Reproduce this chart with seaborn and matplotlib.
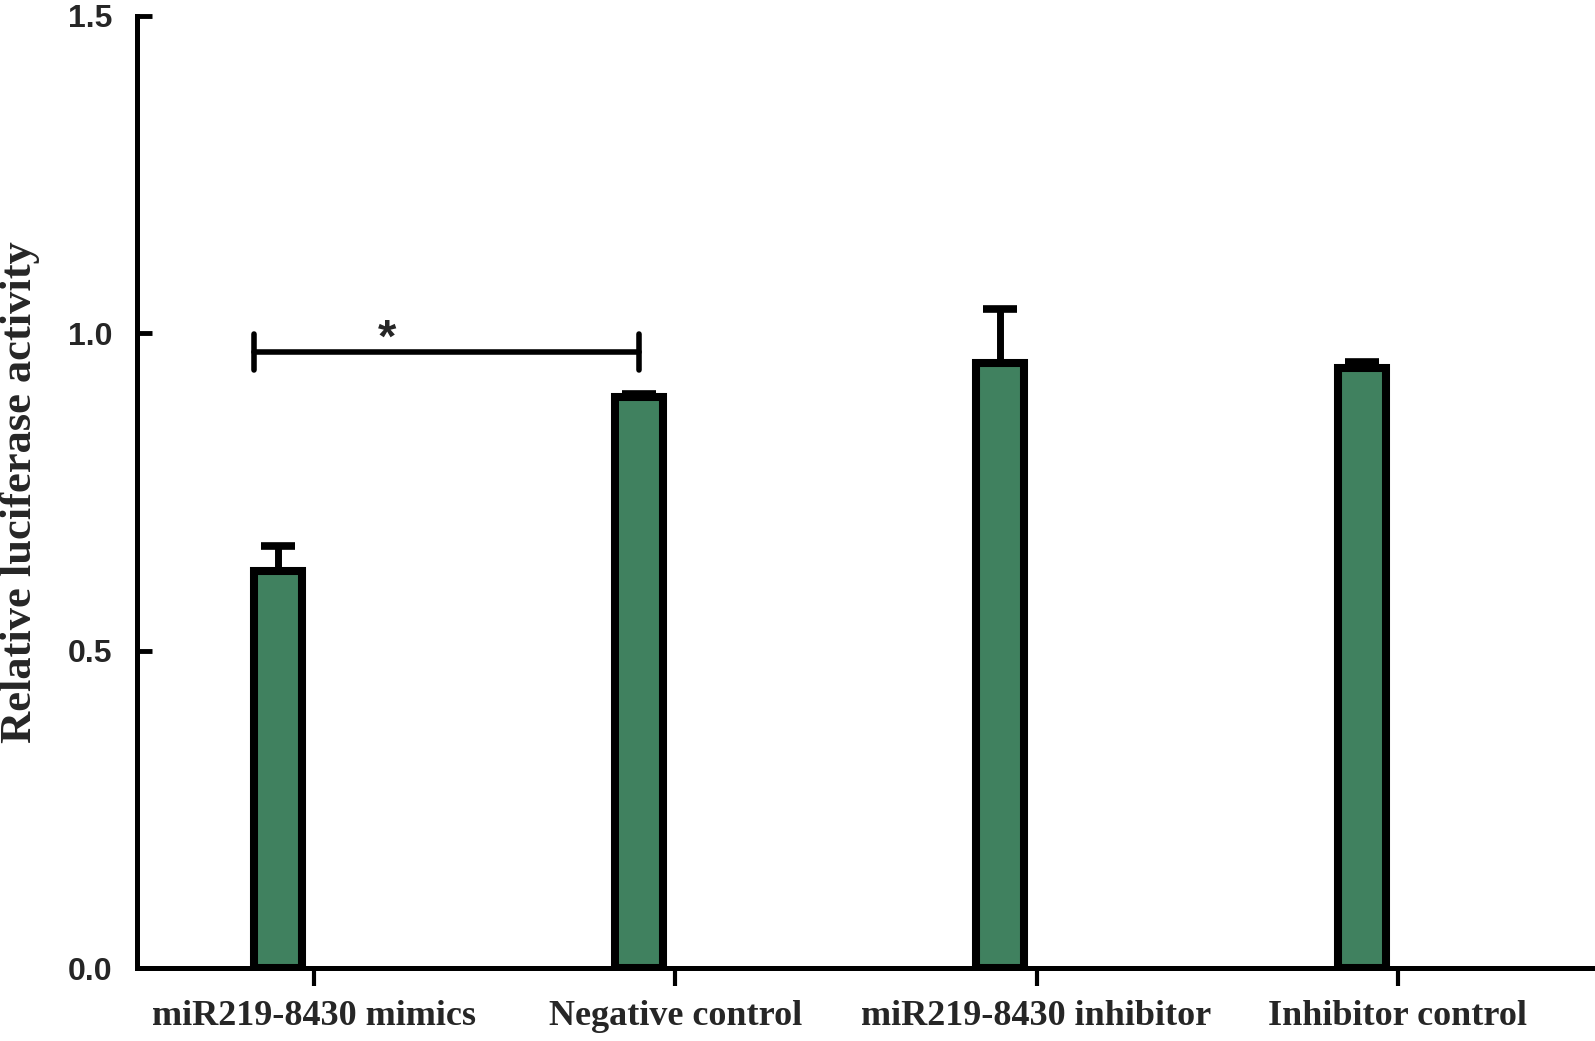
import numpy as np
import pandas as pd
import matplotlib
matplotlib.use("Agg")
import matplotlib.pyplot as plt
import seaborn as sns

# values
groups = ["miR219-8430 mimics", "Negative control",
          "miR219-8430 inhibitor", "Inhibitor control"]
activity = [0.625, 0.900, 0.953, 0.945]
err_up = [0.040, 0.004, 0.085, 0.010]
y_ticks = [0.0, 0.5, 1.0, 1.5]
y_tick_labels = ["0.0", "0.5", "1.0", "1.5"]
sig_y = 0.97
sig_label = "*"

bar_green = "#40815f"

sns.set_style("white")
plt.rcParams["font.family"] = ["Liberation Serif", "DejaVu Serif"]

fig = plt.figure(figsize=(15.95, 10.41), dpi=100)
ax = fig.add_axes([0.0859, 0.0701, 0.9121, 0.9149])

df = pd.DataFrame({"group": groups, "activity": activity})
sns.barplot(data=df, x="group", y="activity", order=groups,
            color=bar_green, saturation=1, width=0.133,
            edgecolor="black", linewidth=5.8, errorbar=None, ax=ax)

centers = [p.get_x() + p.get_width() / 2 for p in ax.patches]
ax.errorbar(centers, activity, yerr=[np.zeros(len(err_up)), err_up],
            fmt="none", ecolor="black", elinewidth=5, capsize=12,
            capthick=5.5, zorder=3)

# significance bracket between mimics and negative control
x0 = ax.patches[0].get_x()
x1 = centers[1]
ax.plot([x0, x1], [sig_y, sig_y], color="black", lw=4, solid_capstyle="round")
for xx in (x0, x1):
    ax.plot([xx, xx], [sig_y - 0.028, sig_y + 0.028], color="black", lw=4,
            solid_capstyle="round")
ax.text(x0 + 0.37, sig_y + 0.0, sig_label, ha="center", va="baseline",
        fontsize=34, fontweight="bold", family="Liberation Sans")

ax.set_xlim(-0.39, 3.637)
ax.set_ylim(0, 1.5)
ax.set_xticks(np.arange(len(groups)) + 0.1, groups)
ax.set_yticks(y_ticks, y_tick_labels)
for lab in ax.get_xticklabels():
    lab.set_fontsize(26)
    lab.set_fontweight("bold")
for lab in ax.get_yticklabels():
    lab.set_fontsize(23)
    lab.set_fontweight("bold")
    lab.set_family("Liberation Sans")

ax.tick_params(axis="x", bottom=True, direction="out", length=13, width=3,
               pad=10, color="black")
ax.tick_params(axis="y", left=True, direction="in", length=11, width=3.5,
               pad=18, color="black")

ax.set_xlabel("")
ax.set_ylabel("Relative luciferase activity", fontsize=32, fontweight="bold",
              labelpad=20)

sns.despine(ax=ax)
for side in ("left", "bottom"):
    ax.spines[side].set_linewidth(3.6)
    ax.spines[side].set_color("black")

fig.savefig("out.png", dpi=100)
